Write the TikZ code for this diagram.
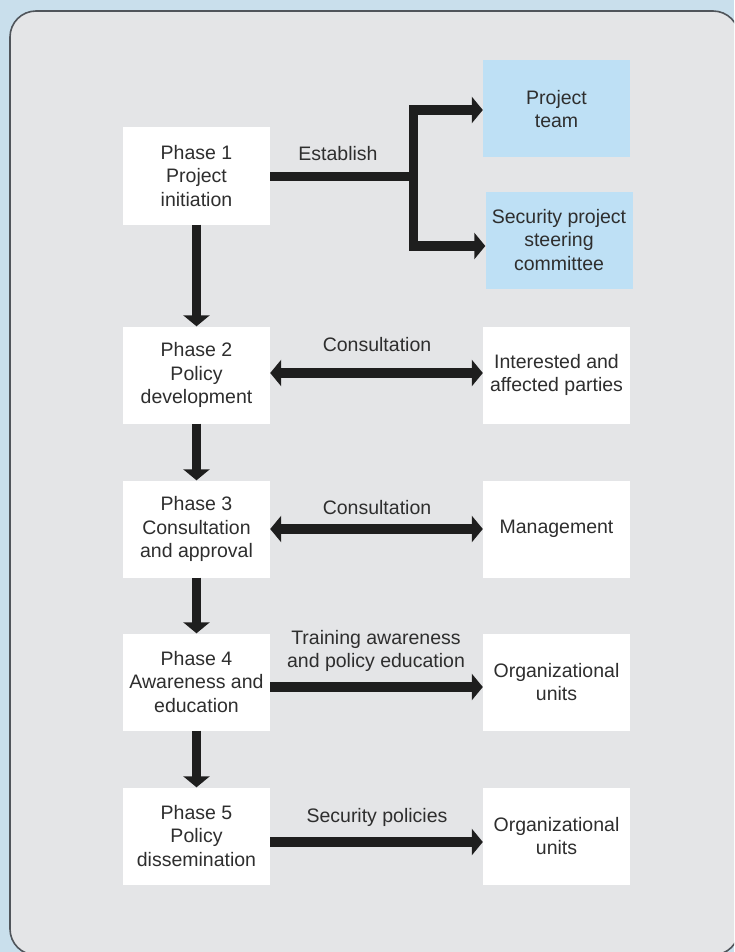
\documentclass[tikz,border=0pt]{standalone}
\usepackage{fontspec}
\setmainfont{Liberation Sans}
\usetikzlibrary{arrows.meta}
\definecolor{panelgrey}{HTML}{E4E5E7}
\definecolor{panelline}{HTML}{50555B}
\definecolor{skyblue}{HTML}{BEE0F5}
\definecolor{outerblue}{HTML}{C9DFEC}
\definecolor{txt}{HTML}{2E2E2E}
\definecolor{arrowblack}{HTML}{1E1E1E}
\begin{document}
\begin{tikzpicture}[x=1pt,y=-1pt,
  every node/.style={text=txt,font=\fontsize{19.5}{23.5}\selectfont},
  boxbase/.style={draw=none,minimum width=147pt,minimum height=97pt,inner sep=0pt,align=center},
  phasebox/.style={boxbase,fill=white},
  partybox/.style={boxbase,fill=white},
  bluebox/.style={boxbase,fill=skyblue},
  lbl/.style={align=center,inner sep=0pt},
  fat/.style={draw=arrowblack,line width=9.5pt,line join=miter},
  tip/.style={fat,-{Triangle[length=11pt,width=26pt]}},
  twotip/.style={fat,{Triangle[length=11pt,width=26pt]}-{Triangle[length=11pt,width=26pt]}}]
\useasboundingbox (0,0) rectangle (734,952);
\fill[outerblue] (0,0) rectangle (734,952);
\begin{scope}
\clip (0,0) rectangle (734,952);
\draw[fill=panelgrey,draw=panelline,line width=1.6pt,rounded corners=26pt] (10,11) rectangle (739,955);
\end{scope}
% phase boxes
\node[phasebox] (p1) at (196.5,176) {Phase 1\\Project\\initiation};
\node[phasebox] (p2) at (196.5,375) {Phase 2\\Policy\\development};
\node[phasebox] (p3) at (196.5,529) {Phase 3\\Consultation\\and approval};
\node[phasebox] (p4) at (196.5,682) {Phase 4\\Awareness and\\education};
\node[phasebox] (p5) at (196.5,836) {Phase 5\\Policy\\dissemination};
% right boxes
\node[bluebox] (team) at (556.5,109) {Project\\team};
\node[bluebox] (steer) at (559,240) {Security project\\steering\\committee};
\node[partybox] (parties) at (556.5,375) {Interested and\\affected parties};
\node[partybox] (mgmt) at (556.5,529) {Management};
\node[partybox] (units1) at (556.5,682) {Organizational\\units};
\node[partybox] (units2) at (556.5,836) {Organizational\\units};
% vertical arrows
\draw[tip] (p1.south) -- (p2.north);
\draw[tip] (p2.south) -- (p3.north);
\draw[tip] (p3.south) -- (p4.north);
\draw[tip] (p4.south) -- (p5.north);
% establish
\coordinate (j) at (413.5,176.5);
\draw[tip] (p1.east |- j) -- (j) |- ([yshift=-1pt]team.west);
\draw[tip] (p1.east |- j) -- (j) |- ([yshift=-6pt]steer.west);
\node[lbl] (lest) at (338,154) {Establish};
% consultation arrows
\draw[twotip] ([yshift=2pt]p2.east) -- ([yshift=2pt]parties.west);
\node[lbl] (lc1) at (377,345) {Consultation};
\draw[twotip] (p3.east) -- (mgmt.west);
\node[lbl] (lc2) at (377,508) {Consultation};
\draw[tip] ([yshift=-5pt]p4.east) -- ([yshift=-5pt]units1.west);
\node[lbl] (ltr) at (376,651) {Training awareness\\and policy education};
\draw[tip] ([yshift=-6pt]p5.east) -- ([yshift=-6pt]units2.west);
\node[lbl] (lsp) at (377,817) {Security policies};
\end{tikzpicture}
\end{document}
